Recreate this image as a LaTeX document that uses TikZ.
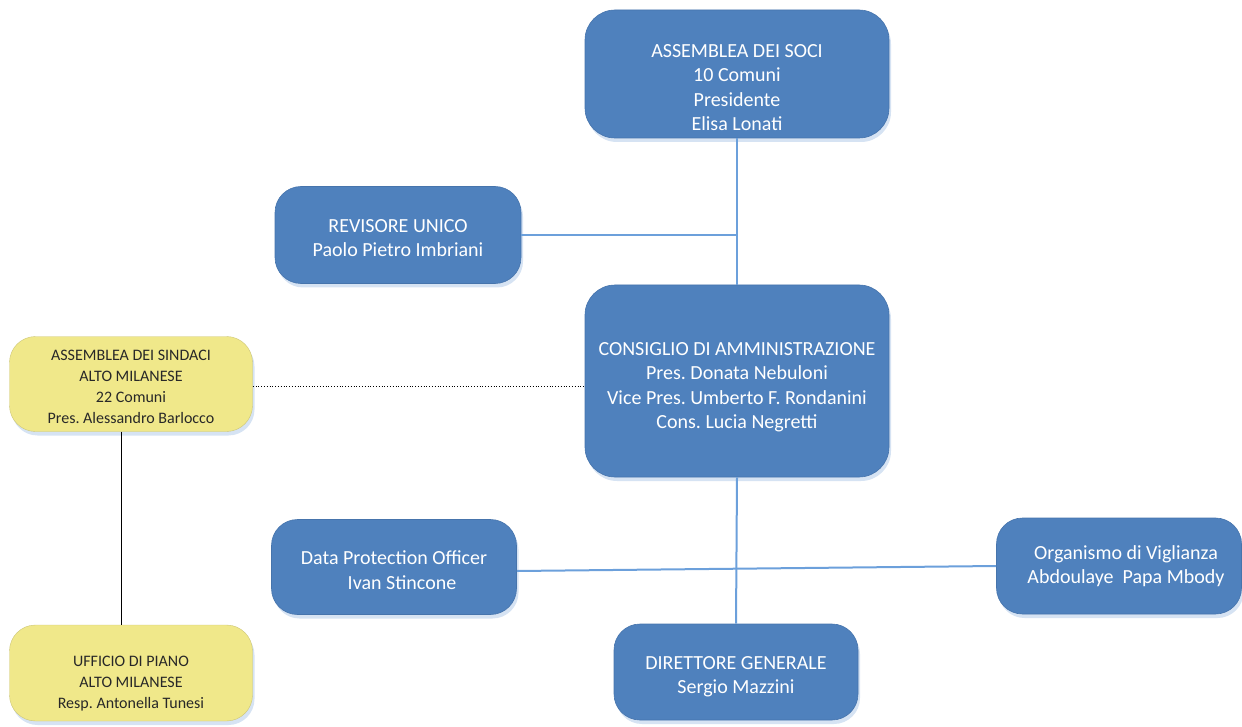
\documentclass[tikz,border=0pt]{standalone}
\usepackage{fontspec}
\setmainfont{Carlito}
\usepackage{xcolor}
\usepackage{tikz}
\usetikzlibrary{positioning,shadows,calc}

\definecolor{boxblue}{RGB}{79,129,189}
\definecolor{edgeblue}{RGB}{70,116,172}
\definecolor{linkblue}{RGB}{108,160,219}
\definecolor{shadeblue}{RGB}{214,227,243}
\definecolor{boxyellow}{RGB}{240,232,138}
\definecolor{textgray}{RGB}{40,40,40}

\tikzset{
    orgbox/.style={rounded corners=26pt, align=center, inner sep=0pt,
        drop shadow={shadow xshift=2pt, shadow yshift=-4pt, fill=shadeblue, opacity=1}},
    bluebox/.style={orgbox, fill=boxblue, draw=edgeblue, line width=0.6pt, text=white,
        font=\fontsize{20}{24.5}\selectfont},
    yellowbox/.style={orgbox, fill=boxyellow, draw=boxyellow!85!black, line width=0.4pt, text=textgray,
        font=\fontsize{16}{21}\selectfont},
    link/.style={draw=linkblue, line width=2pt}
}
\frenchspacing

\begin{document}
\begin{tikzpicture}[x=1pt, y=-1pt]
    \useasboundingbox (0,0) rectangle (1242,727);

    % top of the chart
    \node[bluebox, minimum width=304, minimum height=128, rounded corners=30pt] (soci) at (737,74)
        {\rule{0pt}{40pt}ASSEMBLEA DEI SOCI\\10 Comuni\\Presidente\\Elisa Lonati};
    \node[bluebox, minimum width=246, minimum height=97] (rev) at (398,235)
        {\rule{0pt}{19pt}REVISORE UNICO\\Paolo Pietro Imbriani};
    \node[bluebox, minimum width=304, minimum height=192, rounded corners=30pt] (cda) at (737,381)
        {\rule{0pt}{25pt}CONSIGLIO DI AMMINISTRAZIONE\\Pres. Donata Nebuloni\\Vice Pres. Umberto F. Rondanini\\Cons. Lucia Negretti};

    % side boxes
    \node[yellowbox, minimum width=243, minimum height=95] (sind) at (131,384)
        {\rule{0pt}{16pt}ASSEMBLEA DEI SINDACI\\ALTO MILANESE\\22 Comuni\\Pres. Alessandro Barlocco};
    \node[yellowbox, minimum width=243, minimum height=96] (uff) at (131,673)
        {\rule{0pt}{31pt}UFFICIO DI PIANO\\ALTO MILANESE\\Resp. Antonella Tunesi};

    % lower level
    \node[bluebox, minimum width=245, minimum height=95] (dpo) at (394,567)
        {\rule{0pt}{20pt}Data Protection Officer\\\hspace{16pt}Ivan Stincone};
    \node[bluebox, minimum width=245, minimum height=96] (odv) at (1119,566)
        {\hspace{14pt}Organismo di Viglianza\\\hspace{14pt}Abdoulaye\ \ Papa Mbody};
    \node[bluebox, minimum width=244, minimum height=96] (dir) at (736,672)
        {\rule{0pt}{22pt}DIRETTORE GENERALE\\Sergio Mazzini};

    % connectors
    \draw[link] (soci.south) -- (cda.north);
    \coordinate (revjoin) at (soci.south |- rev.east);
    \draw[link] (rev.east) -- (revjoin);
    \draw[link] (cda.south) -- (dir.north);
    \draw[link] ([yshift=-4]dpo.east) -- (odv.west);
    \draw[dotted, line width=0.8pt] ([yshift=-2]sind.east) -- ([yshift=-2]sind.east -| cda.west);
    \draw[black, line width=1pt] ([xshift=-10]sind.south) -- ([xshift=-10]uff.north);
\end{tikzpicture}
\end{document}
